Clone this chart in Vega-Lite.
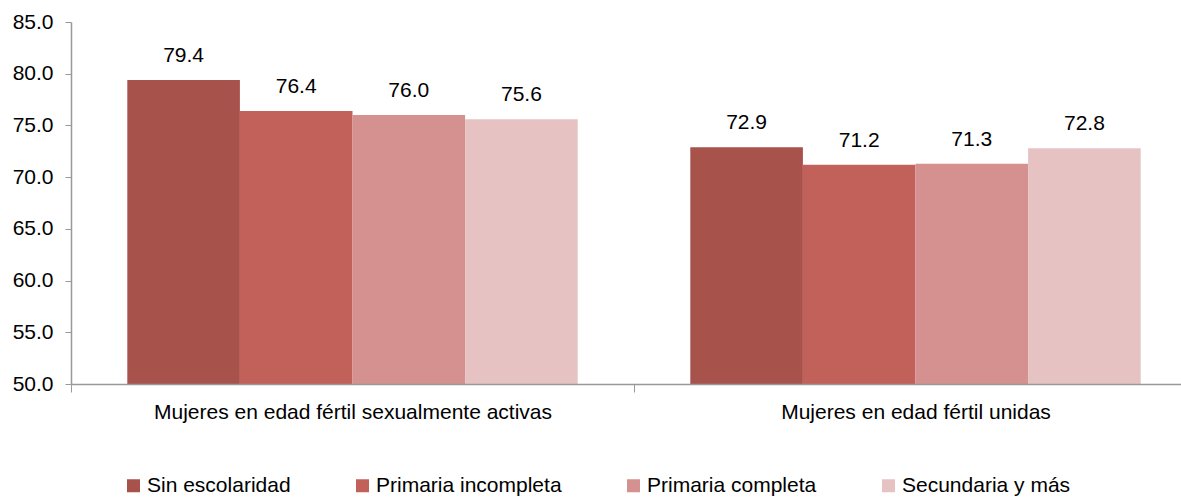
{
  "$schema": "https://vega.github.io/schema/vega-lite/v6.json",
  "autosize": {"type": "none"},
  "padding": {"left": 71, "top": 22, "right": 0, "bottom": 113},
  "width": 1110,
  "height": 362,
  "background": "white",
  "config": {
    "font": "Liberation Sans",
    "view": {"stroke": null}
  },
  "data": {
    "values": [
      {"grupo": "Mujeres en edad fértil sexualmente activas", "nivel": "Sin escolaridad", "valor": 79.4},
      {"grupo": "Mujeres en edad fértil sexualmente activas", "nivel": "Primaria incompleta", "valor": 76.4},
      {"grupo": "Mujeres en edad fértil sexualmente activas", "nivel": "Primaria completa", "valor": 76.0},
      {"grupo": "Mujeres en edad fértil sexualmente activas", "nivel": "Secundaria y más", "valor": 75.6},
      {"grupo": "Mujeres en edad fértil unidas", "nivel": "Sin escolaridad", "valor": 72.9},
      {"grupo": "Mujeres en edad fértil unidas", "nivel": "Primaria incompleta", "valor": 71.2},
      {"grupo": "Mujeres en edad fértil unidas", "nivel": "Primaria completa", "valor": 71.3},
      {"grupo": "Mujeres en edad fértil unidas", "nivel": "Secundaria y más", "valor": 72.8}
    ]
  },
  "encoding": {
    "x": {
      "field": "grupo", "type": "nominal", "sort": null,
      "scale": {"range": [0, 1126], "paddingInner": 0, "paddingOuter": 0},
      "axis": {
        "title": null, "labelAngle": 0, "labelFontSize": 21, "labelColor": "#000000",
        "labelPadding": 9, "tickBand": "extent", "tickSize": 8, "tickColor": "#999999",
        "domainColor": "#999999", "domainWidth": 1.5, "labelLimit": 600, "zindex": 1
      }
    },
    "xOffset": {"field": "nivel", "type": "nominal", "sort": ["Sin escolaridad", "Primaria incompleta", "Primaria completa", "Secundaria y más"], "scale": {"paddingInner": 0, "paddingOuter": 0.5}},
    "y": {
      "field": "valor", "type": "quantitative",
      "scale": {"domain": [50, 85], "zero": false, "nice": false},
      "axis": {
        "title": null, "values": [50, 55, 60, 65, 70, 75, 80, 85], "format": ".1f",
        "grid": false, "labelFontSize": 21, "labelColor": "#000000", "labelPadding": 12,
        "tickSize": 6, "tickColor": "#999999", "domainColor": "#999999", "domainWidth": 1.5
      }
    }
  },
  "layer": [
    {
      "mark": {"type": "bar", "clip": true},
      "encoding": {
        "color": {
          "field": "nivel", "type": "nominal",
          "sort": ["Sin escolaridad", "Primaria incompleta", "Primaria completa", "Secundaria y más"],
          "scale": {"domain": ["Sin escolaridad", "Primaria incompleta", "Primaria completa", "Secundaria y más"], "range": ["#A8524C", "#C2605A", "#D59190", "#E6C3C2"]},
          "legend": {
            "title": null, "orient": "none", "direction": "horizontal", "columns": 4,
            "legendX": 52, "legendY": 453, "symbolType": "square", "symbolSize": 169,
            "symbolStrokeWidth": 0, "labelFontSize": 21, "labelColor": "#000000",
            "labelOffset": 3, "columnPadding": 61, "labelLimit": 400
          }
        }
      }
    },
    {
      "mark": {"type": "text", "baseline": "alphabetic", "dy": -18, "fontSize": 21, "color": "#000000"},
      "encoding": {
        "text": {"field": "valor", "type": "quantitative", "format": ".1f"}
      }
    }
  ]
}
